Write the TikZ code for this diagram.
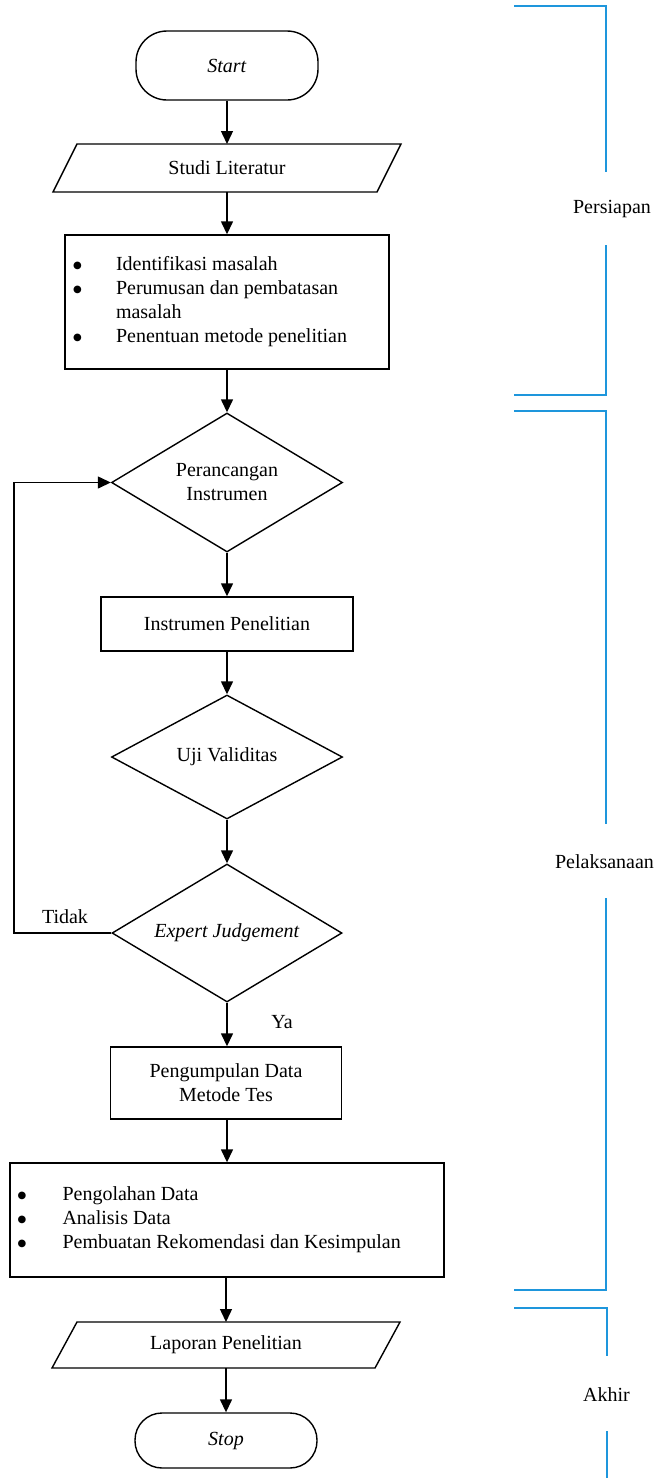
\documentclass[tikz,border=0pt]{standalone}
\usepackage{fontspec}
\setmainfont{Liberation Serif}
\newfontfamily\symfont{DejaVu Sans}
\usetikzlibrary{shapes.geometric,arrows.meta}
\definecolor{brk}{RGB}{30,150,220}
\newcommand{\diagfont}{\fontsize{20}{24}\selectfont}
\newcommand{\bigbul}{\raisebox{2.5pt}{\symfont\fontsize{10}{12}\selectfont ●}}
\tikzset{
  base/.style={font=\diagfont, inner sep=0pt, align=center},
  term/.style={base, draw, rectangle, minimum width=182pt},
  proc/.style={base, draw, rectangle},
  dec/.style={base, draw, diamond, shape aspect=1.67},
  io/.style={base, rectangle, outer sep=0pt},
  flow/.style={-{Triangle[length=13pt,width=12pt]}},
  bracket/.style={draw=brk, line width=1.7pt},
  lbl/.style={font=\diagfont, inner sep=0pt}
}
\begin{document}
\begin{tikzpicture}[x=1pt,y=-1pt,line width=1.4pt]
\useasboundingbox (0,0) rectangle (656,1478);

% nodes
\node[term, minimum height=69pt, rounded corners=31pt] (start) at (227,65.5) {\textit{Start}};
\node[io, minimum width=324pt, minimum height=48pt] (studi) at (227,168) {Studi Literatur};
\draw ([xshift=12pt]studi.north west) -- ([xshift=12pt]studi.north east)
  -- ([xshift=-12pt]studi.south east) -- ([xshift=-12pt]studi.south west) -- cycle;

\node[proc, minimum width=324pt, minimum height=134pt] (box1) at (227,302) {%
  \begin{tabular}{@{}p{43pt}@{}p{265pt}@{}}
  \bigbul & Identifikasi masalah\\
  \bigbul & Perumusan dan pembatasan\\
   & masalah\\
  \bigbul & Penentuan metode penelitian
  \end{tabular}};

\node[dec, minimum width=231pt, minimum height=139pt] (d1) at (227,482.5) {Perancangan\\Instrumen};
\node[proc, minimum width=252pt, minimum height=54pt] (instr) at (227,624) {Instrumen Penelitian};
\node[dec, minimum width=231pt, minimum height=124pt] (uji) at (227,757) {Uji Validitas};
\node[dec, minimum width=230pt, minimum height=138pt] (expert) at (227,933) {\textit{Expert Judgement}};
\node[proc, minimum width=231pt, minimum height=72pt] (peng) at (226,1083) {Pengumpulan Data\\Metode Tes};

\node[proc, minimum width=434pt, minimum height=114pt] (big) at (227,1220) {%
  \begin{tabular}{@{}p{45pt}@{}p{374pt}@{}}
  \bigbul & Pengolahan Data\\
  \bigbul & Analisis Data\\
  \bigbul & Pembuatan Rekomendasi dan Kesimpulan
  \end{tabular}};

\node[io, minimum width=323pt, minimum height=46pt] (lap) at (226,1345) {Laporan Penelitian};
\draw ([xshift=12.5pt]lap.north west) -- ([xshift=12.5pt]lap.north east)
  -- ([xshift=-12.5pt]lap.south east) -- ([xshift=-12.5pt]lap.south west) -- cycle;

\node[term, minimum height=55pt, rounded corners=27pt] (stop) at (226,1440.5) {\textit{Stop}};

% labels
\node[lbl] (tidak) at (65,917) {Tidak};
\node[lbl] (ya) at (282,1022) {Ya};

% connectors
\draw[flow] (start) -- (studi);
\draw[flow] (studi) -- (box1);
\draw[flow] (box1) -- (d1);
\draw[flow] (d1) -- (instr);
\draw[flow] (instr) -- (uji);
\draw[flow] (uji) -- (expert);
\draw[flow] (expert.south) -- (expert.south |- peng.north);
\draw[flow] (peng.south -| big.north) -- (big.north);
\draw[flow] (big.south -| lap.north) -- (lap.north);
\draw[flow] (lap) -- (stop);

\coordinate (loopB) at (14,933);
\coordinate (loopT) at (14,482.5);
\draw[flow] (expert.west) -- (loopB) -- (loopT) -- (d1.west);

% phase brackets
\node[lbl] (persiapan) at (612,209) {Persiapan};
\node[lbl] (pelaksanaan) at (604.5,862) {Pelaksanaan};
\node[lbl] (akhir) at (606.5,1395) {Akhir};

\coordinate (p1a) at (514,6);
\coordinate (p1b) at (606,6);
\coordinate (p1c) at (606,172);
\coordinate (p1d) at (606,245);
\coordinate (p1e) at (606,395);
\coordinate (p1f) at (514,395);
\draw[bracket] (p1a) -- (p1b) -- (p1c);
\draw[bracket] (p1d) -- (p1e) -- (p1f);

\coordinate (p2a) at (514,411);
\coordinate (p2b) at (606,411);
\coordinate (p2c) at (606,824);
\coordinate (p2d) at (606,898);
\coordinate (p2e) at (606,1290);
\coordinate (p2f) at (514,1290);
\draw[bracket] (p2a) -- (p2b) -- (p2c);
\draw[bracket] (p2d) -- (p2e) -- (p2f);

\coordinate (p3a) at (514,1308);
\coordinate (p3b) at (607,1308);
\coordinate (p3c) at (607,1356);
\coordinate (p3d) at (607,1431);
\coordinate (p3e) at (607,1478);
\draw[bracket] (p3a) -- (p3b) -- (p3c);
\draw[bracket] (p3d) -- (p3e);
\end{tikzpicture}
\end{document}
